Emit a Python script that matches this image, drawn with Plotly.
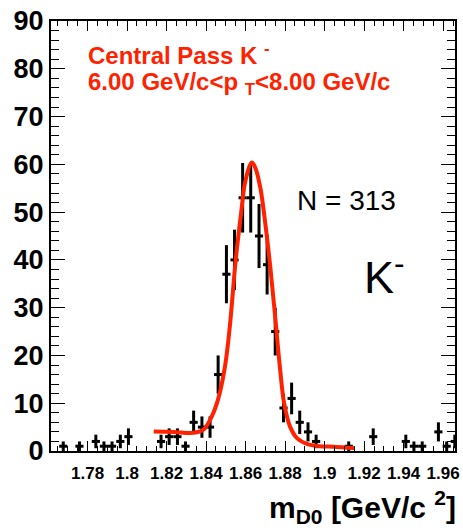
import numpy as np
import plotly.graph_objects as go

# ---- data ----
bin_centers = [1.7677, 1.7759, 1.7842, 1.7883, 1.7924, 1.7966, 1.8007,
               1.8172, 1.8213, 1.8255, 1.8296, 1.8337, 1.8379, 1.8420, 1.8461,
               1.8503, 1.8544, 1.8585, 1.8626, 1.8668, 1.8709, 1.8750, 1.8792,
               1.8833, 1.8874, 1.8916, 1.8957, 1.9122, 1.9246, 1.9411, 1.9452,
               1.9494, 1.9576, 1.9618, 1.9659]
counts = [1, 1, 2, 1, 1, 2, 3,
          2, 3, 3, 1, 6, 5, 5, 16,
          37, 40, 53, 53, 45, 39, 25, 9,
          11, 6, 4, 2, 1, 3, 2, 1,
          1, 4, 1, 2]

fit_x = [1.8135, 1.8235, 1.8335, 1.8385, 1.8425, 1.8460, 1.8495, 1.8520,
         1.8550, 1.8575, 1.8600, 1.8632, 1.8650, 1.8675, 1.8700, 1.8725,
         1.8750, 1.8775, 1.8795, 1.8825, 1.8860, 1.8910, 1.8975, 1.9045, 1.9150]
fit_y = [4.1, 4.0, 3.8, 4.4, 6.9, 10.7, 17.5, 26.0,
         40.0, 49.0, 56.7, 60.4, 59.2, 55.0, 47.5, 38.5,
         28.0, 17.0, 10.0, 5.1, 2.7, 1.5, 1.0, 0.9, 0.6]

x_tickvals = [1.78, 1.80, 1.82, 1.84, 1.86, 1.88, 1.90, 1.92, 1.94, 1.96]
x_ticktext = ["1.78", "1.8", "1.82", "1.84", "1.86", "1.88", "1.9", "1.92", "1.94", "1.96"]
y_tickvals = [0, 10, 20, 30, 40, 50, 60, 70, 80, 90]

# ---- style ----
W, H = 463, 530
L, R, T, B = 51, 460, 21, 451
X_RANGE = [1.7615, 1.966]
HALF_BIN = 0.002065
RED = "#ff2200"
FONT = "Liberation Sans"

errs = [float(np.sqrt(c)) for c in counts]

fig = go.Figure()
fig.add_trace(go.Scatter(
    x=bin_centers, y=counts, mode="markers",
    marker=dict(size=0.1, color="black"),
    error_x=dict(type="constant", value=HALF_BIN, thickness=3, width=0, color="black"),
    error_y=dict(type="data", array=errs, thickness=3, width=0, color="black"),
    showlegend=False, hoverinfo="skip", cliponaxis=True,
))
fig.add_trace(go.Scatter(
    x=fit_x, y=fit_y, mode="lines", line=dict(color=RED, width=4, shape="spline"),
    showlegend=False, hoverinfo="skip",
))

def px2paper(px, py):
    return (px - L) / (R - L), (B - py) / (B - T)

anns = []
def ann(text, px, py, size, color="black", weight="normal", xanchor="left"):
    xp, yp = px2paper(px, py)
    anns.append(dict(text=text, x=xp, y=yp, xref="paper", yref="paper",
                     xanchor=xanchor, yanchor="middle", showarrow=False,
                     font=dict(family=FONT, size=size, color=color, weight=weight)))

ann("Central Pass K <sup>-</sup>", 86, 54, 24, RED, "bold")
ann("6.00 GeV/c&lt;p <sub>T</sub>&lt;8.00 GeV/c", 86, 83, 24, RED, "bold")
ann("N = 313", 298, 201, 28)
ann("K<sup>-</sup>", 366, 274, 45)
ann("m<sub>D0</sub> [GeV/c <sup>2</sup>]", 463, 507, 30, "black", "bold", xanchor="right")
fig.update_layout(annotations=anns)

axis_common = dict(showline=True, linecolor="black", linewidth=2, mirror="ticks",
                   ticks="inside", tickcolor="black", tickwidth=1,
                   showgrid=False, zeroline=False)

fig.update_xaxes(range=X_RANGE, tickvals=x_tickvals, ticktext=x_ticktext,
                 ticklen=10, ticklabelstandoff=6,
                 tickfont=dict(family=FONT, size=17, color="black", weight="bold"),
                 minor=dict(dtick=0.005, tick0=1.78, ticks="inside", ticklen=5,
                            tickcolor="black", tickwidth=1, showgrid=False),
                 **axis_common)
fig.update_yaxes(range=[0, 90], tickvals=y_tickvals, ticklen=14, ticklabelstandoff=0,
                 tickfont=dict(family=FONT, size=27, color="black", weight="bold"),
                 minor=dict(dtick=2, tick0=0, ticks="inside", ticklen=8,
                            tickcolor="black", tickwidth=1, showgrid=False),
                 **axis_common)

fig.update_layout(width=W, height=H, margin=dict(l=L, r=W - R, t=T, b=H - B),
                  paper_bgcolor="white", plot_bgcolor="white")
fig.write_html("out.html")
